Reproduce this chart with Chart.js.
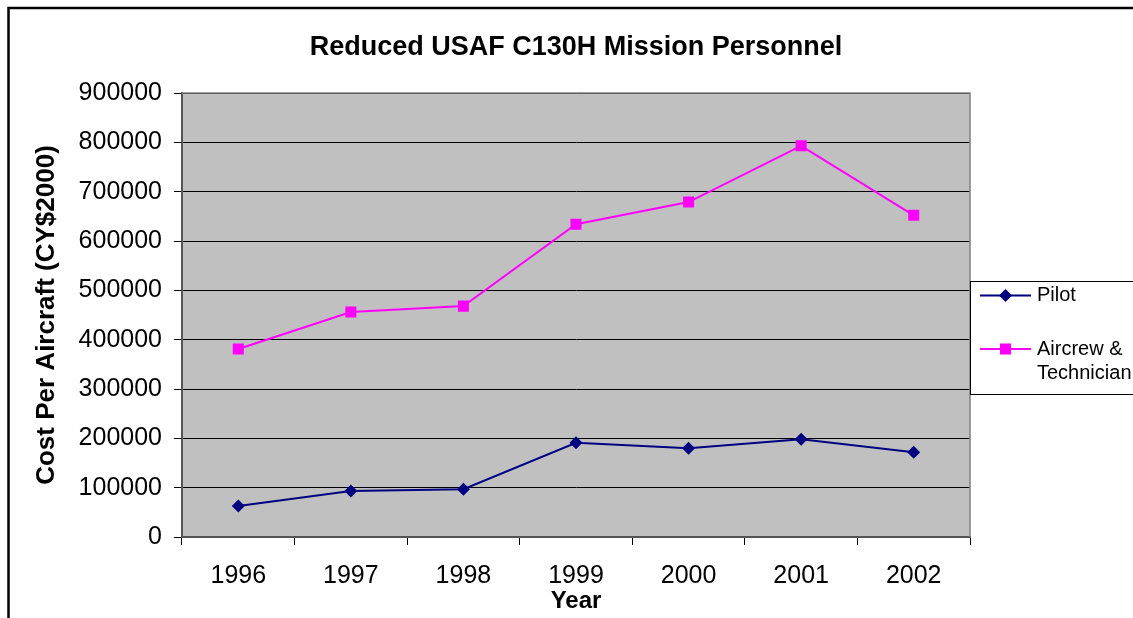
<!DOCTYPE html>
<html>
<head>
<meta charset="utf-8">
<title>Reduced USAF C130H Mission Personnel</title>
<script src="https://cdn.jsdelivr.net/npm/chart.js@4/dist/chart.umd.min.js"></script>
<style>
	body { margin: 0; background: #fff; }
	#wrap { width: 1133px; height: 618px; position: relative; }
</style>
</head>
<body>
<div id="wrap"><canvas id="chart" width="1133" height="618"></canvas></div>
<script>
/* 데이터 */
const years = ['1996', '1997', '1998', '1999', '2000', '2001', '2002'];
const pilot = [63000, 93000, 97000, 191000, 180000, 198000, 172000];
const aircrew = [381000, 456000, 468000, 634000, 679000, 793000, 652000];
const seriesNames = ['Pilot', 'Aircrew & Technician'];

const FONT = "'Liberation Sans', Arial, sans-serif";

/* 바깥 테두리 + 회색 플롯 배경 */
const backdrop = {
	id: 'backdrop',
	beforeDraw(chart) {
		const ctx = chart.ctx;
		const a = chart.chartArea;
		ctx.save();
		ctx.fillStyle = '#C0C0C0';
		ctx.fillRect(a.left, a.top, a.right - a.left, a.bottom - a.top);
		ctx.strokeStyle = '#000';
		ctx.lineWidth = 2.5;
		ctx.beginPath();
		ctx.moveTo(8.5, 618);
		ctx.lineTo(8.5, 8);
		ctx.lineTo(1133, 8);
		ctx.stroke();
		ctx.restore();
	},
	afterDatasetsDraw(chart) {
		// 플롯 위/오른쪽 회색 테두리
		const ctx = chart.ctx;
		const a = chart.chartArea;
		ctx.save();
		ctx.strokeStyle = '#808080';
		ctx.lineWidth = 1.5;
		ctx.beginPath();
		ctx.moveTo(a.left, a.top);
		ctx.lineTo(a.right, a.top);
		ctx.lineTo(a.right, a.bottom);
		ctx.stroke();
		ctx.restore();
	}
};

/* 오른쪽 범례 박스 (엑셀 스타일) */
const boxLegend = {
	id: 'boxLegend',
	afterDraw(chart) {
		const ctx = chart.ctx;
		const x0 = chart.chartArea.right;
		const y0 = 281, h = 113;
		ctx.save();
		ctx.fillStyle = '#fff';
		ctx.fillRect(x0, y0, 200, h);
		ctx.strokeStyle = '#000';
		ctx.lineWidth = 1;
		ctx.strokeRect(x0 + 0.5, y0 + 0.5, 200, h);

		ctx.font = '20px ' + FONT;
		ctx.textBaseline = 'middle';
		ctx.fillStyle = '#000';
		const rowY = [295.5, 349];
		chart.data.datasets.forEach(function(ds, i) {
			const y = rowY[i];
			ctx.strokeStyle = ds.borderColor;
			ctx.lineWidth = 2;
			ctx.beginPath();
			ctx.moveTo(x0 + 10, y);
			ctx.lineTo(x0 + 61, y);
			ctx.stroke();
			ctx.fillStyle = ds.pointBackgroundColor;
			Chart.helpers.drawPoint(ctx, {
				pointStyle: ds.pointStyle,
				radius: ds.pointRadius,
				rotation: 0,
				borderWidth: 0
			}, x0 + 35.5, y);
			// 줄바꿈
			ctx.fillStyle = '#000';
			const words = ds.label.split(' ');
			const lines = [];
			let cur = '';
			words.forEach(function(w) {
				const test = cur ? cur + ' ' + w : w;
				if (ctx.measureText(test).width > 96 && cur) {
					lines.push(cur);
					cur = w;
				} else {
					cur = test;
				}
			});
			lines.push(cur);
			lines.forEach(function(t, k) {
				ctx.fillText(t, x0 + 67, y + k * 24);
			});
		});
		ctx.restore();
	}
};

window.onload = function() {
	const data = {
		labels: years,
		datasets: [{
			label: seriesNames[0],
			data: pilot,
			borderColor: '#000080',
			backgroundColor: '#000080',
			pointBackgroundColor: '#000080',
			pointBorderColor: '#000080',
			pointStyle: 'rectRot',
			pointRadius: 6.5,
			pointBorderWidth: 0,
			borderWidth: 2,
			tension: 0
		}, {
			label: seriesNames[1],
			data: aircrew,
			borderColor: '#FF00FF',
			backgroundColor: '#FF00FF',
			pointBackgroundColor: '#FF00FF',
			pointBorderColor: '#FF00FF',
			pointStyle: 'rect',
			pointRadius: 7.8,
			pointBorderWidth: 0,
			borderWidth: 2,
			tension: 0
		}]
	};

	const config = {
		type: 'line',
		data: data,
		plugins: [backdrop, boxLegend],
		options: {
			responsive: false,
			animation: false,
			layout: { padding: { left: 0, right: 163, top: 0, bottom: 0 } },
			plugins: {
				legend: { display: false },
				tooltip: { enabled: false },
				title: {
					display: true,
					fullSize: false,
					text: 'Reduced USAF C130H Mission Personnel',
					color: '#000',
					font: { family: FONT, size: 27, weight: 'bold' },
					padding: { top: 31, bottom: 29.6 }
				}
			},
			scales: {
				x: {
					offset: true,
					grid: {
						offset: true,
						drawOnChartArea: false,
						tickLength: 8,
						color: '#000'
					},
					border: { color: '#555', width: 2 },
					ticks: {
						color: '#000',
						padding: 16,
						font: { family: FONT, size: 25 }
					},
					title: {
						display: true,
						text: 'Year',
						color: '#000',
						font: { family: FONT, size: 24, weight: 'bold' },
						padding: { top: 0, bottom: 2 }
					},
					afterFit: function(scale) { scale.height = 81; }
				},
				y: {
					min: 0,
					max: 900000,
					grid: { color: '#000', lineWidth: 1, tickLength: 8 },
					border: { color: '#555', width: 2 },
					ticks: {
						stepSize: 100000,
						color: '#000',
						padding: 12,
						font: { family: FONT, size: 25 },
						callback: function(v) { return String(v); }
					},
					title: {
						display: true,
						text: 'Cost Per Aircraft (CY$2000)',
						color: '#000',
						font: { family: FONT, size: 26, weight: 'bold' },
						padding: { top: 31, bottom: 0 }
					},
					afterFit: function(scale) { scale.width = 182; }
				}
			}
		}
	};

	const chart = new Chart(document.getElementById('chart'), config);
};
</script>
</body>
</html>
